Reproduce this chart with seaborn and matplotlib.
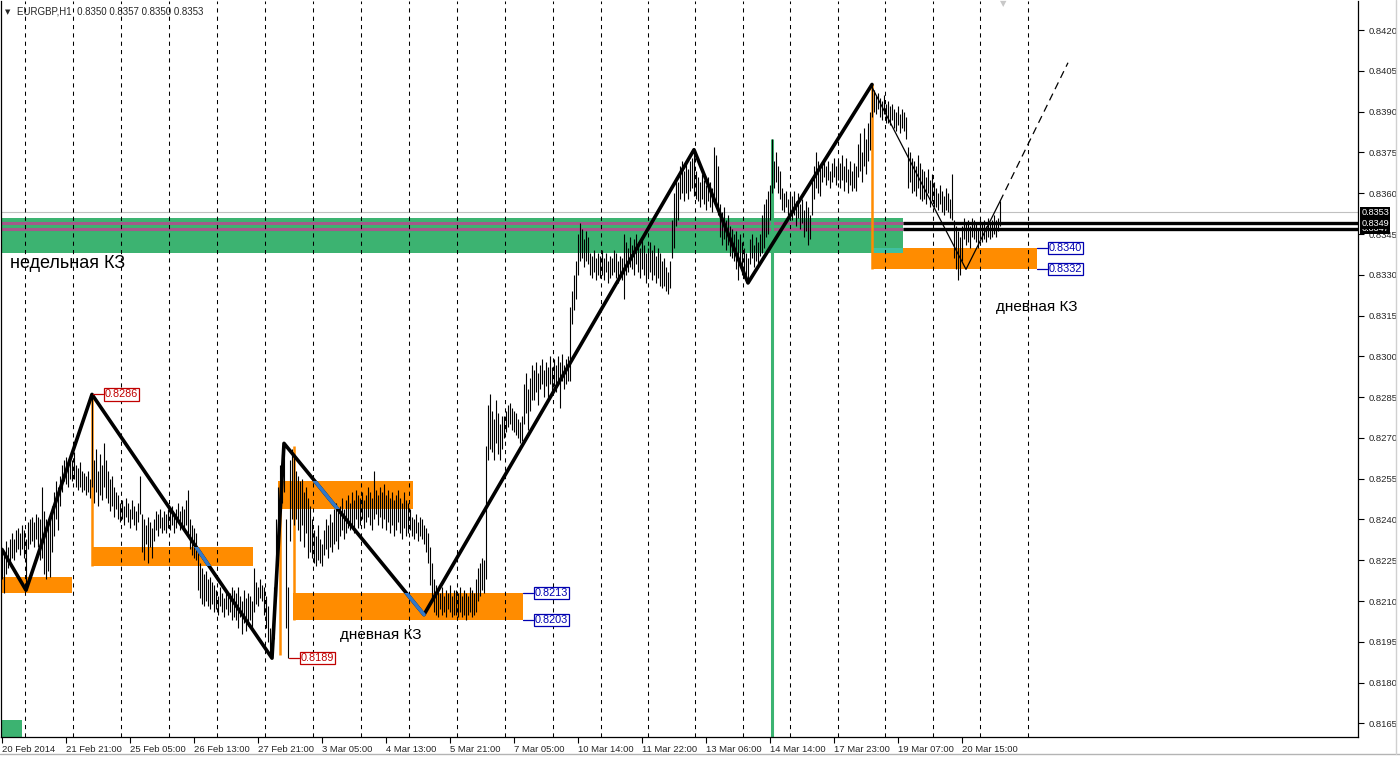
import matplotlib
matplotlib.use("Agg")
import matplotlib.pyplot as plt
from matplotlib.patches import Rectangle
from matplotlib.lines import Line2D
import matplotlib.transforms as mtransforms
import seaborn as sns
import numpy as np
import pandas as pd

# EURGBP H1 bars, high / low in pips above 0.8000 (one line per trading day)
bar_high = [
    229, 228, 232, 230, 233, 235, 233, 236, 237, 235, 238,
    236, 233, 239, 240, 241, 239, 242, 241, 240, 252, 243, 240, 239, 241, 245, 250, 254, 252, 256, 260, 262, 263, 261, 264,
    262, 265, 260, 259, 261, 258, 257, 256, 258, 255, 286, 262, 266, 258, 264, 260, 268, 262, 258, 255, 256, 252, 250, 249,
    246, 247, 245, 248, 246, 244, 247, 245, 243, 246, 256, 242, 240, 238, 241, 239, 237, 240, 243, 242, 244, 241, 243, 242,
    244, 243, 245, 242, 244, 246, 243, 245, 244, 247, 251, 240, 238, 237, 235, 228, 224, 222, 220, 221, 218, 219, 217, 216,
    214, 212, 215, 213, 211, 214, 212, 213, 215, 214, 213, 215, 212, 210, 214, 211, 213, 212, 210, 222, 217, 215, 218, 216,
    215, 212, 208, 200, 198, 215, 240, 252, 260, 264, 268, 240, 215, 262, 266, 264, 258, 256, 254, 255, 250, 252, 248, 245,
    240, 236, 234, 238, 233, 231, 236, 240, 238, 242, 239, 244, 246, 243, 245, 248, 244, 247, 249, 246, 250, 247, 251, 249,
    248, 250, 247, 249, 252, 250, 248, 258, 251, 249, 252, 250, 253, 249, 251, 248, 250, 247, 249, 251, 248, 246, 250, 247,
    246, 244, 241, 240, 242, 239, 241, 240, 238, 237, 235, 230, 224, 218, 216, 214, 213, 215, 212, 214, 213, 216, 212, 214,
    214, 213, 215, 212, 214, 213, 212, 215, 214, 213, 218, 222, 224, 226, 225, 267, 282, 286, 280, 277, 284, 279, 275, 278,
    278, 280, 282, 283, 281, 280, 279, 277, 276, 278, 290, 294, 288, 292, 297, 295, 298, 294, 297, 299, 295, 298, 296, 300,
    296, 299, 297, 300, 298, 301, 297, 299, 300, 318, 324, 330, 335, 345, 349, 347, 343, 346, 344, 338, 337, 339, 336, 338,
    337, 339, 336, 338, 335, 337, 336, 339, 338, 335, 337, 336, 345, 342, 340, 344, 341, 343, 345, 342, 340, 343, 341, 338,
    340, 342, 339, 341, 337, 340, 338, 335, 336, 333, 331, 335, 350, 360, 366, 364, 370, 372, 368, 371, 369, 372, 373, 375,
    368, 366, 364, 367, 365, 363, 366, 364, 362, 377, 374, 370, 356, 353, 355, 350, 352, 348, 347, 345, 346, 343, 345, 342,
    340, 338, 336, 343, 345, 341, 344, 342, 345, 352, 356, 358, 361, 363, 380, 372, 375, 370, 368, 362, 360, 361, 358, 360,
    359, 361, 357, 360, 356, 358, 354, 357, 355, 352, 365, 370, 375, 372, 369, 371, 373, 370, 372, 368, 371, 373, 370, 372,
    371, 374, 370, 373, 369, 372, 368, 371, 370, 378, 382, 375, 384, 380, 386, 390, 400, 398, 396, 397, 395, 394, 396, 393,
    394, 392, 393, 391, 390, 392, 389, 391, 390, 388, 377, 375, 373, 372, 370, 374, 371, 369, 368, 366, 369, 365, 367, 364,
    362, 360, 363, 361, 359, 362, 360, 358, 367, 350, 348, 346, 344, 348, 351, 349, 350, 348, 351, 350, 349, 347, 350, 349,
    350, 348, 351, 349, 350, 352, 350, 351, 357,
]
bar_low = [
    218, 213, 220, 222, 224, 226, 225, 228, 229, 227, 229,
    226, 214, 229, 231, 232, 230, 233, 230, 225, 226, 220, 218, 221, 219, 228, 234, 240, 236, 245, 250, 254, 253, 252, 255,
    254, 255, 252, 251, 252, 250, 251, 249, 250, 248, 252, 246, 250, 245, 249, 247, 252, 248, 246, 243, 245, 241, 244, 240,
    239, 240, 238, 241, 239, 237, 240, 238, 236, 239, 242, 228, 225, 231, 224, 230, 226, 232, 236, 234, 237, 235, 236, 235,
    237, 236, 238, 235, 237, 239, 236, 237, 236, 238, 234, 229, 227, 226, 225, 214, 211, 209, 208, 210, 208, 207, 209, 206,
    207, 205, 208, 206, 204, 207, 205, 206, 203, 204, 203, 200, 204, 198, 202, 199, 201, 203, 200, 206, 209, 208, 211, 210,
    205, 200, 195, 191, 189, 196, 212, 232, 244, 246, 250, 200, 189, 232, 240, 238, 240, 236, 232, 238, 230, 235, 226, 228,
    226, 224, 223, 225, 224, 223, 227, 229, 226, 230, 228, 231, 232, 229, 234, 236, 233, 235, 237, 236, 238, 235, 240, 237,
    238, 240, 237, 239, 241, 238, 236, 240, 242, 238, 241, 237, 240, 236, 239, 235, 238, 234, 236, 239, 235, 233, 237, 234,
    235, 236, 234, 233, 235, 232, 234, 233, 231, 228, 224, 216, 210, 206, 205, 204, 207, 205, 206, 204, 207, 206, 204, 205,
    205, 204, 206, 204, 205, 203, 205, 206, 204, 205, 206, 210, 212, 214, 213, 218, 262, 266, 265, 262, 268, 264, 262, 266,
    270, 272, 274, 275, 273, 272, 271, 270, 268, 269, 275, 279, 273, 280, 284, 284, 287, 282, 288, 290, 285, 289, 284, 290,
    286, 289, 287, 290, 281, 291, 288, 290, 291, 291, 312, 317, 321, 330, 335, 336, 333, 335, 334, 330, 329, 331, 328, 330,
    329, 330, 328, 331, 327, 329, 330, 331, 329, 327, 330, 328, 321, 330, 331, 333, 332, 330, 334, 331, 329, 332, 330, 327,
    330, 331, 328, 330, 327, 329, 326, 325, 326, 324, 323, 325, 336, 340, 348, 350, 358, 360, 357, 360, 358, 361, 362, 359,
    358, 357, 355, 358, 356, 354, 357, 355, 353, 358, 355, 352, 344, 341, 343, 339, 341, 337, 336, 335, 332, 328, 333, 330,
    329, 328, 327, 334, 336, 333, 335, 334, 337, 338, 340, 344, 345, 350, 360, 362, 364, 360, 358, 354, 353, 355, 352, 353,
    350, 352, 348, 351, 347, 349, 344, 346, 341, 343, 352, 358, 362, 360, 359, 364, 366, 363, 365, 362, 364, 366, 363, 365,
    362, 365, 361, 364, 360, 363, 361, 362, 361, 366, 368, 364, 370, 367, 372, 376, 388, 390, 389, 391, 388, 387, 389, 386,
    386, 385, 387, 384, 383, 385, 382, 384, 383, 380, 362, 364, 360, 361, 359, 362, 358, 357, 358, 356, 360, 355, 357, 355,
    355, 354, 356, 353, 352, 354, 353, 351, 350, 336, 332, 328, 330, 335, 343, 341, 342, 340, 344, 343, 342, 340, 343, 342,
    343, 342, 344, 343, 344, 345, 344, 346, 348,
]

time_labels = ['20 Feb 2014', '21 Feb 21:00', '25 Feb 05:00', '26 Feb 13:00', '27 Feb 21:00',
               '3 Mar 05:00', '4 Mar 13:00', '5 Mar 21:00', '7 Mar 05:00', '10 Mar 14:00',
               '11 Mar 22:00', '13 Mar 06:00', '14 Mar 14:00', '17 Mar 23:00', '19 Mar 07:00',
               '20 Mar 15:00']
time_label_bars = [0, 32, 64, 96, 128, 160, 192, 224, 256, 288, 320, 352, 384, 416, 448, 480]
day_starts = [11.5, 35.5, 59.5, 83.5, 107.5, 131.5, 155.5, 179.5, 203.5, 227.5, 251.5,
              275.5, 299.5, 323, 346.5, 370.5, 394, 418, 441.5, 465.5, 489, 513]
price_ticks = [0.8165, 0.8180, 0.8195, 0.8210, 0.8225, 0.8240, 0.8255, 0.8270, 0.8285,
               0.8300, 0.8315, 0.8330, 0.8345, 0.8360, 0.8375, 0.8390, 0.8405, 0.8420]

# zigzag swing points (bar, price)
zz_bar = [0, 12, 45, 135, 141, 211, 346, 373, 435]
zz_price = [0.8229, 0.8214, 0.8286, 0.8189, 0.8268, 0.8205, 0.8376, 0.8327, 0.8400]
# thin projection after the last swing
pr_bar = [435, 482, 499]
pr_price = [0.8399, 0.8332, 0.8357]
pr_dash_bar = [499, 533]
pr_dash_price = [0.8357, 0.8408]

# supply/demand zones: start bar, end bar, low, high
orange_start = [0, 45, 138, 145.5, 435]
orange_end = [35, 125.5, 205.5, 260.5, 517.5]
orange_low = [0.8213, 0.8223, 0.8244, 0.8203, 0.8332]
orange_high = [0.8219, 0.8230, 0.8254, 0.8213, 0.8340]
# vertical base lines: bar, from, to
base_bar = [45, 139, 146, 435]
base_top = [0.8286, 0.8254, 0.8267, 0.8400]
base_bot = [0.8223, 0.8190, 0.8203, 0.8332]

weekly_zone = (-1, 450.5, 0.8338, 0.8351)
weekly_lines = [0.8349, 0.8347]
current_price = 0.8353

# level labels: bar of the swing, price, colour
lvl_bar = [45.5, 143.5, 260.5, 260.5, 517.5, 517.5]
lvl_price = [0.8286, 0.8189, 0.8213, 0.8203, 0.8340, 0.8332]
lvl_color = ['#c00000', '#c00000', '#0000b0', '#0000b0', '#0000b0', '#0000b0']

GREEN = '#3cb371'
TEAL = '#40c0a0'
ORANGE = '#ff8c00'
PURPLE = '#a35a8a'
BLUE = '#3478c6'

sns.set_style("white")
plt.rcParams['font.family'] = ['Liberation Sans', 'DejaVu Sans']

fig = plt.figure(figsize=(14, 7.58), dpi=100)
ax = fig.add_axes([1 / 1400, 21 / 758, 1357 / 1400, 736 / 758])
ax.set_xlim(-0.5, 678)
ax.set_ylim(0.81600, 0.84307)

# weekly zone
ax.add_patch(Rectangle((weekly_zone[0], weekly_zone[2]), weekly_zone[1] - weekly_zone[0],
                       weekly_zone[3] - weekly_zone[2], color=GREEN, lw=0, zorder=1.2))
for p in weekly_lines:
    ax.plot([weekly_zone[0], weekly_zone[1]], [p, p], color=PURPLE, lw=2.2, zorder=1.3,
            solid_capstyle='butt')
    ax.plot([weekly_zone[1], 678], [p, p], color='black', lw=2.4, zorder=3,
            solid_capstyle='butt')
ax.axhline(current_price, color='#c0c0c0', lw=0.8, zorder=1.1)

# orange zones and base lines
zone_rects = []
for s, e, lo, hi in zip(orange_start, orange_end, orange_low, orange_high):
    ax.add_patch(Rectangle((s, lo), e - s, hi - lo, color=ORANGE, lw=0, zorder=1))
    zone_rects.append((s, e, lo, hi))
# where the last daily zone overlaps the weekly zone
s, e, lo, hi = zone_rects[4]
ax.add_patch(Rectangle((s, weekly_zone[2]), weekly_zone[1] - s, hi - weekly_zone[2], color=TEAL,
                       lw=0, zorder=1.25))
for b, t, bt in zip(base_bar, base_top, base_bot):
    ax.plot([b, b], [bt, t], color=ORANGE, lw=1.8, zorder=1.4, solid_capstyle='butt')

# green marks
ax.plot([385, 385], [0.8160, 0.8380], color=GREEN, lw=2.2, zorder=1.5, solid_capstyle='butt')
ax.add_patch(Rectangle((-0.5, 0.8160), 10.5, 0.00064, color=GREEN, lw=0, zorder=1.5))

# day separators
for d in day_starts:
    ax.axvline(d, color='black', lw=0.75, ls=(0, (4, 4)), zorder=2)

# hourly bars
bars = pd.DataFrame({'bar': np.arange(len(bar_high)),
                     'high': 0.8 + np.array(bar_high) / 10000,
                     'low': 0.8 + np.array(bar_low) / 10000})
ax.vlines(bars['bar'], bars['low'], bars['high'], color='black', lw=0.8, zorder=2.5)

# zigzag
zz = pd.DataFrame({'bar': zz_bar, 'price': zz_price})
sns.lineplot(data=zz, x='bar', y='price', sort=False, estimator=None, color='black',
             lw=2.6, ax=ax, zorder=4)
# blue parts of the down legs inside the zones
for i0, zi in [(2, 1), (4, 2), (4, 3)]:
    seg = pd.DataFrame({'bar': zz_bar[i0:i0 + 2], 'price': zz_price[i0:i0 + 2]})
    sns.lineplot(data=seg, x='bar', y='price', sort=False, estimator=None, color=BLUE,
                 lw=2.6, ax=ax, zorder=4.5)
    s, e, lo, hi = zone_rects[zi]
    clip = Rectangle((s, lo), e - s, hi - lo, transform=ax.transData)
    ax.lines[-1].set_clip_path(clip)

pr = pd.DataFrame({'bar': pr_bar, 'price': pr_price})
sns.lineplot(data=pr, x='bar', y='price', sort=False, estimator=None, color='black',
             lw=0.9, ax=ax, zorder=4)
prd = pd.DataFrame({'bar': pr_dash_bar, 'price': pr_dash_price})
sns.lineplot(data=prd, x='bar', y='price', sort=False, estimator=None, color='black',
             lw=0.9, ax=ax, zorder=4, linestyle=(0, (6, 4)))

# level labels
for b, p, c in zip(lvl_bar, lvl_price, lvl_color):
    ax.plot([b, b + 5], [p, p], color=c, lw=0.9, zorder=5)
    ax.text(b + 6, p, f'{p:.4f}', color=c, fontsize=7.8, va='center', ha='left', zorder=6,
            bbox=dict(boxstyle='square,pad=0.1', fc='white', ec=c, lw=0.9))

ax.text(4, 0.83343, 'недельная КЗ', fontsize=13, va='center', ha='left', color='black', zorder=6)
ax.text(169, 0.81976, 'дневная КЗ', fontsize=11, va='center', ha='left', color='black', zorder=6)
ax.text(497, 0.83182, 'дневная КЗ', fontsize=11, va='center', ha='left', color='black', zorder=6)

# axes styling
ax.set_xlabel('')
ax.set_ylabel('')
ax.yaxis.tick_right()
ax.set_yticks(price_ticks)
ax.set_yticklabels([f'{p:.4f}' for p in price_ticks])
ax.set_xticks(time_label_bars)
ax.set_xticklabels(time_labels)
for t in ax.get_xticklabels():
    t.set_ha('left')
ax.tick_params(axis='both', labelsize=6.8, length=4, width=0.8, color='black', direction='out')
ax.tick_params(axis='y', pad=4, left=False, right=True)
ax.tick_params(axis='x', pad=2, bottom=True)
for side in ['left', 'right', 'bottom']:
    ax.spines[side].set_visible(True)
    ax.spines[side].set_color('black')
    ax.spines[side].set_linewidth(0.9)
ax.spines['top'].set_visible(False)

# current price tags on the price scale (the lowest one is partly covered, as in MT4)
trans = mtransforms.blended_transform_factory(ax.transAxes, ax.transData)
for p in [0.8347, 0.8349, 0.8353]:
    ax.text(1.0025, p, f'{p:.4f}', transform=trans, color='white', fontsize=6.6,
            va='center', ha='left', zorder=7, clip_on=False,
            bbox=dict(boxstyle='square,pad=0.1', fc='black', ec='black', lw=0))

# header
fig.text(5 / 1400, 1 - 12 / 758, '▼', fontsize=5, va='center', ha='left', family='DejaVu Sans')
fig.text(17 / 1400, 1 - 12 / 758, 'EURGBP,H1  0.8350 0.8357 0.8350 0.8353', fontsize=7,
         va='center', ha='left')
fig.text(1003 / 1400, 1 - 4 / 758, '▼', fontsize=6, va='center', ha='center', color='#c8c8c8',
         family='DejaVu Sans')

# window frame
fig.add_artist(Line2D([0, 1], [4 / 758, 4 / 758], color='#b4b4b4', lw=1))
fig.add_artist(Line2D([1396 / 1400, 1396 / 1400], [4 / 758, 1], color='#d0d0d0', lw=1))

fig.savefig('out.png', dpi=100)
